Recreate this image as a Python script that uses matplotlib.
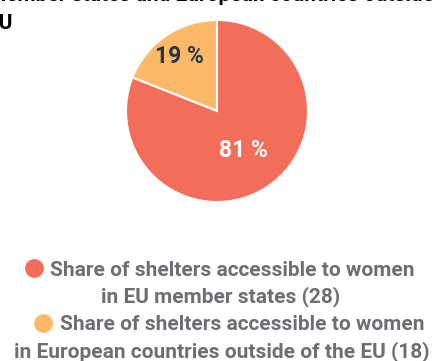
import numpy as np
import matplotlib
matplotlib.use("Agg")
import matplotlib.pyplot as plt
from matplotlib.lines import Line2D

# --- data ---
shares = [19, 81]
labels = ["19 %", "81 %"]
colors = ["#FDB868", "#F26E5A"]
label_colors = ["#253746", "white"]
label_radius = [0.73, 0.52]
legend_lines = [
    ("Share of shelters accessible to women", "in EU member states (28)"),
    ("Share of shelters accessible to women", "in European countries outside of the EU (18)"),
]
legend_colors = ["#F26E5A", "#FDB868"]
title_lines = ["member states and European countries outside of the", "EU"]

W, H = 432, 361
FONT = ["Roboto", "DejaVu Sans"]

fig = plt.figure(figsize=(W / 100, H / 100), dpi=100)

# pie centred at (217, 111) px, radius 91 px
cx, cy, r = 217, 111, 91
ax = fig.add_axes([(cx - r) / W, (H - cy - r) / H, 2 * r / W, 2 * r / H])
wedges, _ = ax.pie(shares, colors=colors, startangle=90, counterclock=True,
                   wedgeprops=dict(edgecolor="white", linewidth=1.5))
ax.set_xlim(-1, 1)
ax.set_ylim(-1, 1)
ax.set_aspect("equal")
ax.axis("off")

for w, lab, col, rad in zip(wedges, labels, label_colors, label_radius):
    ang = np.deg2rad((w.theta1 + w.theta2) / 2)
    ax.text(rad * np.cos(ang), rad * np.sin(ang), lab, ha="center", va="center",
            color=col, fontsize=16.5, fontweight="bold", family=FONT)

# title (clipped at the top-left like the reference)
fig.text(-12 / W, 1 - 1 / H, title_lines[0], ha="left", va="baseline",
         fontsize=15, fontweight="bold", color="black", family=FONT)
fig.text(-12 / W, 1 - 29 / H, title_lines[1], ha="left", va="baseline",
         fontsize=15, fontweight="bold", color="black", family=FONT)

# legend
entries = [
    dict(marker=(34, 268), first=(50, 270), second=(221, 297)),
    dict(marker=(43, 323), first=(60, 325), second=(221.5, 352)),
]
for (l1, l2), col, e in zip(legend_lines, legend_colors, entries):
    mx, my = e["marker"]
    fig.add_artist(Line2D([mx / W], [1 - my / H], transform=fig.transFigure,
                          marker="o", markersize=12.5, color=col, linestyle="none"))
    fig.text(e["first"][0] / W, 1 - e["first"][1] / H, l1, ha="left", va="center",
             fontsize=15, fontweight="bold", color="#6D6E71", family=FONT)
    fig.text(e["second"][0] / W, 1 - e["second"][1] / H, l2, ha="center", va="center",
             fontsize=15, fontweight="bold", color="#6D6E71", family=FONT)

fig.savefig("out.png", dpi=100)
